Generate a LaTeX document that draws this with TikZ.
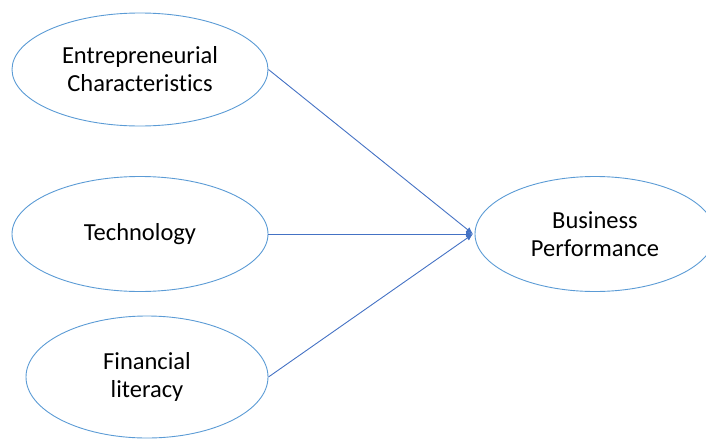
\documentclass[tikz,border=0pt]{standalone}
\usepackage{fontspec}
\setmainfont{Carlito}[Ligatures=NoCommon]
\usetikzlibrary{shapes.geometric,arrows.meta}
\definecolor{ellblue}{HTML}{5B9BD5}
\definecolor{lineblue}{HTML}{4472C4}
\begin{document}
\begin{tikzpicture}[x=1pt,y=-1pt,
  oval/.style={ellipse,draw=ellblue,line width=0.9pt,inner sep=0pt,align=center,
    font=\fontsize{24.5}{28}\selectfont},
  conn/.style={draw=lineblue,line width=0.9pt,-{Latex[length=7pt,width=6pt]}}]
\useasboundingbox (0,0) rectangle (706,439);
\node[oval,minimum width=256pt,minimum height=113pt] (ec) at (140,69.5) {Entrepreneurial\\Characteristics};
\node[oval,minimum width=256pt,minimum height=115pt] (tech) at (140,234) {Technology};
\node[oval,minimum width=242pt,minimum height=122pt] (fin) at (147,377) {Financial\\literacy};
\node[oval,minimum width=240pt,minimum height=115pt] (bp) at (595,234) {Business\\Performance};
\coordinate (tip) at (473,234);
\draw[conn] (ec.east) -- (tip);
\draw[conn] (tech.east) -- (tip);
\draw[conn] (fin.east) -- (tip);
\end{tikzpicture}
\end{document}
